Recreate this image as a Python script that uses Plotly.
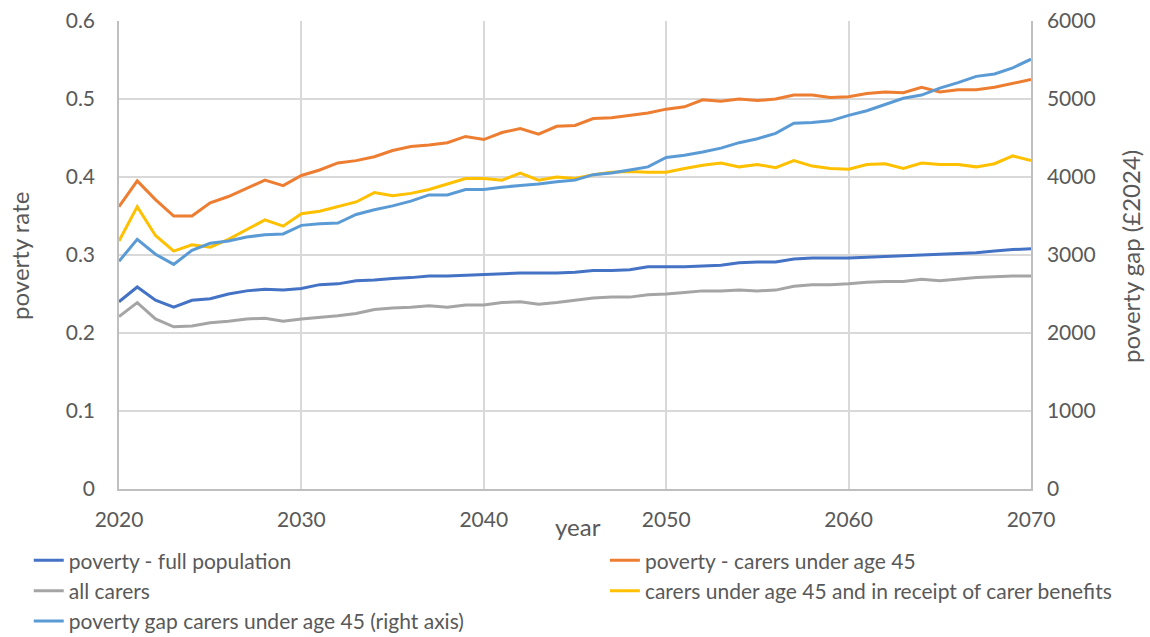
import plotly.graph_objects as go

years = list(range(2020, 2071))

full_population = [
    0.240, 0.259, 0.242, 0.233, 0.242, 0.244, 0.250, 0.254, 0.256, 0.255,
    0.257, 0.262, 0.263, 0.267, 0.268, 0.270, 0.271, 0.273, 0.273, 0.274,
    0.275, 0.276, 0.277, 0.277, 0.277, 0.278, 0.280, 0.280, 0.281, 0.285,
    0.285, 0.285, 0.286, 0.287, 0.290, 0.291, 0.291, 0.295, 0.296, 0.296,
    0.296, 0.297, 0.298, 0.299, 0.300, 0.301, 0.302, 0.303, 0.305, 0.307,
    0.308,
]

carers_under_45 = [
    0.362, 0.395, 0.371, 0.350, 0.350, 0.367, 0.375, 0.386, 0.396, 0.389,
    0.402, 0.409, 0.418, 0.421, 0.426, 0.434, 0.439, 0.441, 0.444, 0.452,
    0.448, 0.457, 0.462, 0.455, 0.465, 0.466, 0.475, 0.476, 0.479, 0.482,
    0.487, 0.490, 0.499, 0.497, 0.500, 0.498, 0.500, 0.505, 0.505, 0.502,
    0.503, 0.507, 0.509, 0.508, 0.515, 0.509, 0.512, 0.512, 0.515, 0.520,
    0.525,
]

all_carers = [
    0.221, 0.239, 0.218, 0.208, 0.209, 0.213, 0.215, 0.218, 0.219, 0.215,
    0.218, 0.220, 0.222, 0.225, 0.230, 0.232, 0.233, 0.235, 0.233, 0.236,
    0.236, 0.239, 0.240, 0.237, 0.239, 0.242, 0.245, 0.246, 0.246, 0.249,
    0.250, 0.252, 0.254, 0.254, 0.255, 0.254, 0.255, 0.260, 0.262, 0.262,
    0.263, 0.265, 0.266, 0.266, 0.269, 0.267, 0.269, 0.271, 0.272, 0.273,
    0.273,
]

carers_benefits = [
    0.318, 0.362, 0.325, 0.305, 0.313, 0.310, 0.320, 0.332, 0.345, 0.337,
    0.353, 0.356, 0.362, 0.368, 0.380, 0.376, 0.379, 0.384, 0.391, 0.398,
    0.398, 0.396, 0.405, 0.396, 0.400, 0.398, 0.403, 0.406, 0.407, 0.406,
    0.406, 0.411, 0.415, 0.418, 0.413, 0.416, 0.412, 0.421, 0.414, 0.411,
    0.410, 0.416, 0.417, 0.411, 0.418, 0.416, 0.416, 0.413, 0.417, 0.427,
    0.421,
]

poverty_gap = [
    2920, 3200, 3010, 2880, 3060, 3150, 3180, 3230, 3260, 3270,
    3380, 3400, 3410, 3520, 3580, 3630, 3690, 3770, 3770, 3840,
    3840, 3870, 3890, 3910, 3940, 3960, 4030, 4050, 4090, 4130,
    4250, 4280, 4320, 4370, 4440, 4490, 4560, 4690, 4700, 4720,
    4790, 4850, 4930, 5010, 5050, 5140, 5210, 5290, 5320, 5400,
    5510,
]

left_ticks = [0, 0.1, 0.2, 0.3, 0.4, 0.5, 0.6]
left_tick_text = ["0", "0.1", "0.2", "0.3", "0.4", "0.5", "0.6"]
right_ticks = [0, 1000, 2000, 3000, 4000, 5000, 6000]
x_ticks = [2020, 2030, 2040, 2050, 2060, 2070]

FONT = "Lato, 'Open Sans', sans-serif"
TEXT = "#595959"
GRID = "#d9d9d9"
AXIS = "#bfbfbf"
TICK_SIZE = 21
LEGEND_SIZE = 21
TITLE_SIZE = 24

# (label, values, colour, y axis, legend column)
series = [
    ("poverty - full population", full_population, "#4472C4", "y", "legend"),
    ("poverty - carers under age 45", carers_under_45, "#ED7D31", "y", "legend2"),
    ("all carers", all_carers, "#A5A5A5", "y", "legend"),
    ("carers under age 45 and in receipt of carer benefits", carers_benefits, "#FFC000", "y", "legend2"),
    ("poverty gap carers under age 45 (right axis)", poverty_gap, "#5B9BD5", "y2", "legend"),
]

fig = go.Figure()
for name, vals, color, axis, leg in series:
    fig.add_trace(go.Scatter(
        x=years, y=vals, name=name, mode="lines", yaxis=axis,
        legend=leg, legendgroup=name,
        line=dict(color=color, width=3),
    ))

legend_common = dict(
    orientation="v", xref="container", yref="container",
    xanchor="left", yanchor="top", y=0.152,
    font=dict(size=LEGEND_SIZE, color=TEXT, family=FONT),
    tracegroupgap=0, bgcolor="rgba(0,0,0,0)",
)

title_font = dict(size=TITLE_SIZE, color=TEXT, family=FONT)

fig.update_layout(
    width=1150, height=637,
    margin=dict(l=119, r=119, t=21, b=148, autoexpand=False),
    paper_bgcolor="white", plot_bgcolor="white",
    font=dict(family=FONT, color=TEXT, size=TICK_SIZE),
    showlegend=True,
    legend=dict(x=0.025, **legend_common),
    legend2=dict(x=0.526, **legend_common),
    xaxis=dict(
        range=[2020, 2070], tickvals=x_ticks, ticks="",
        showgrid=True, gridcolor=GRID, gridwidth=1.5,
        zeroline=False, showline=True, linecolor=AXIS, linewidth=1.5,
        tickfont=dict(size=TICK_SIZE, color=TEXT), ticklabelstandoff=11,
    ),
    yaxis=dict(
        range=[0, 0.6], tickvals=left_ticks, ticktext=left_tick_text, ticks="",
        showgrid=True, gridcolor=GRID, gridwidth=1.5,
        zeroline=False, showline=True, linecolor=AXIS, linewidth=1.5,
        tickfont=dict(size=TICK_SIZE, color=TEXT), ticklabelstandoff=18,
    ),
    yaxis2=dict(
        range=[0, 6000], tickvals=right_ticks, ticks="", overlaying="y", side="right",
        showgrid=False, zeroline=False, showline=True, linecolor=AXIS, linewidth=1.5,
        tickfont=dict(size=TICK_SIZE, color=TEXT), ticklabelstandoff=10,
    ),
    annotations=[
        dict(text="year", xref="paper", yref="paper", x=0.503, y=-0.08,
             xanchor="center", yanchor="middle", showarrow=False, font=title_font),
        dict(text="poverty rate", xref="paper", yref="paper", x=-0.1086, y=0.498,
             xanchor="center", yanchor="middle", textangle=-90, showarrow=False,
             font=title_font),
        dict(text="poverty gap (£2024)", xref="paper", yref="paper", x=1.1096, y=0.498,
             xanchor="center", yanchor="middle", textangle=-90, showarrow=False,
             font=title_font),
    ],
)

fig.write_html("out.html")
